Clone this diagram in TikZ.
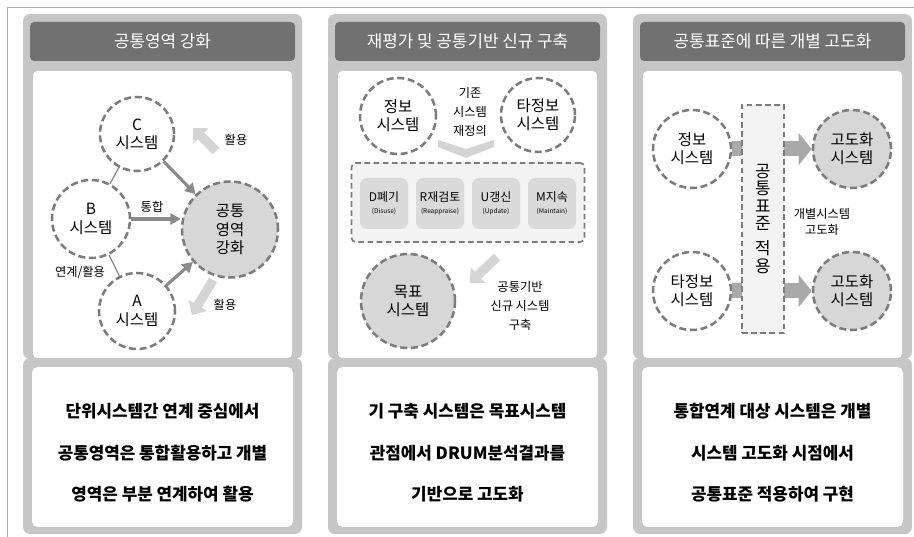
\documentclass[tikz,border=0pt]{standalone}
\usepackage{fontspec}
\setmainfont{Noto Sans CJK KR}
\usepackage{xcolor}
\usepackage{tikz}
\usetikzlibrary{arrows.meta, positioning, calc}

\definecolor{framegray}{HTML}{ABABAB}
\definecolor{panelgray}{HTML}{C6C6C6}
\definecolor{headgray}{HTML}{717171}
\definecolor{dashgray}{HTML}{7C7C7C}
\definecolor{coregray}{HTML}{D7D7D7}
\definecolor{hintgray}{HTML}{D4D4D4}
\definecolor{linkgray}{HTML}{8A8A8A}
\definecolor{blockgray}{HTML}{A9A9A9}
\definecolor{boxgray}{HTML}{DADADA}
\definecolor{palegray}{HTML}{F3F3F3}

\newcommand{\drumsub}{\fontsize{4.6}{5}\selectfont}

\tikzset{
  sysnode/.style={
    circle, draw=dashgray, line width=1.8pt, dash pattern=on 5pt off 2.6pt,
    fill=white, minimum size=1.9cm, inner sep=0pt, align=center,
    font=\fontsize{11}{13}\selectfont
  },
  corenode/.style={
    sysnode, fill=coregray, minimum size=2.4cm
  },
  headtitle/.style={
    text=white, font=\fontsize{12}{14}\selectfont
  },
  summarytext/.style={
    align=center, font=\bfseries\fontsize{12}{29.5}\selectfont
  },
  sidelabel/.style={
    align=center, font=\fontsize{8.7}{13.5}\selectfont
  },
  linkline/.style={
    draw=linkgray, line width=0.9pt
  },
  linkarrow/.style={
    -{Triangle[length=2.6mm, width=2.8mm]}, line width=2.2pt, draw=linkgray
  },
  hintarrow/.style={
    -{Triangle[length=2.8mm, width=5.2mm]}, line width=2.3mm, draw=hintgray
  },
  blockarrow/.style={
    -{Triangle[length=3.3mm, width=8mm]}, line width=3.75mm, draw=blockgray
  },
  drumframe/.style={
    draw=dashgray, line width=1.2pt, dash pattern=on 4pt off 2.5pt,
    fill=palegray, rounded corners=3pt
  },
  drumbox/.style={
    fill=boxgray, rounded corners=5pt, minimum width=1.2cm,
    minimum height=1.275cm, inner sep=1pt, align=center,
    font=\fontsize{8.5}{8.5}\selectfont
  },
  stdbar/.style={
    draw=dashgray, line width=1.2pt, dash pattern=on 4pt off 2.5pt,
    fill=palegray, minimum width=1.05cm, minimum height=5.7cm,
    align=center, font=\fontsize{12}{12.45}\selectfont
  },
}

\begin{document}
\begin{tikzpicture}
  \useasboundingbox (0,0) rectangle (22.85,13.425);

  % outer frame
  \draw[framegray, line width=0.6pt] (0.175,0) -- (0.175,13.25) -- (22.85,13.25);

  % ---- PANEL BACKGROUNDS ----
  \fill[panelgray, rounded corners=5pt] (0.575,4.45) rectangle (7.55,13.075);
  \fill[panelgray, rounded corners=5pt] (8.2,4.45) rectangle (15.175,13.075);
  \fill[panelgray, rounded corners=5pt] (15.825,4.45) rectangle (22.8,13.075);

  \fill[headgray, rounded corners=3pt] (0.75,11.9) rectangle (7.375,12.875);
  \fill[headgray, rounded corners=3pt] (8.375,11.9) rectangle (15.0,12.875);
  \fill[headgray, rounded corners=3pt] (16.0,11.9) rectangle (22.625,12.875);

  \fill[white, rounded corners=3pt] (0.825,4.475) rectangle (7.3,11.65);
  \fill[white, rounded corners=3pt] (8.45,4.475) rectangle (14.925,11.65);
  \fill[white, rounded corners=3pt] (16.075,4.475) rectangle (22.55,11.65);

  \fill[panelgray, rounded corners=5pt] (0.575,0.075) rectangle (7.55,4.475);
  \fill[panelgray, rounded corners=5pt] (8.2,0.075) rectangle (15.175,4.475);
  \fill[panelgray, rounded corners=5pt] (15.825,0.075) rectangle (22.8,4.475);

  \fill[white, rounded corners=4pt] (0.8,0.25) rectangle (7.325,4.25);
  \fill[white, rounded corners=4pt] (8.425,0.25) rectangle (14.95,4.25);
  \fill[white, rounded corners=4pt] (16.05,0.25) rectangle (22.575,4.25);

  % Panel titles
  \node[headtitle] (head1) at (4.0625,12.3875) {공통영역 강화};
  \node[headtitle] (head2) at (11.6875,12.3875) {재평가 및 공통기반 신규 구축};
  \node[headtitle] (head3) at (19.3125,12.3875) {공통표준에 따른 개별 고도화};

  % ---- PANEL 1: common area ----
  \node[sysnode, minimum size=1.85cm] (csys) at (3.425,10.075) {C\\시스템};
  \node[sysnode, minimum size=1.95cm] (bsys) at (2.275,7.95) {B\\시스템};
  \node[sysnode, minimum size=1.9cm] (asys) at (3.425,5.65) {A\\시스템};
  \node[corenode] (core) at (5.75,7.6875) {공통\\영역\\강화};

  \draw[linkline] (csys) -- (bsys);
  \draw[linkline] (bsys) -- (asys);
  \draw[linkarrow] (csys) -- (core);
  \draw[linkarrow] (bsys.east) -- (bsys.east -| core.west);
  \draw[linkarrow] (asys) -- (core);

  \node[sidelabel] (tonghap) at (3.8,8.25) {통합};
  \node[sidelabel] (linkuse) at (2.0,6.625) {연계/활용};
  \node[sidelabel] (useup) at (5.9,9.925) {활용};
  \node[sidelabel] (usedown) at (5.625,5.8) {활용};

  % light hint arrows
  \coordinate (hintupfrom) at (5.4,9.65);
  \coordinate (hintupto) at (4.825,10.225);
  \draw[hintarrow] (hintupfrom) -- (hintupto);
  \coordinate (hintdnfrom) at (5.325,6.425);
  \coordinate (hintdnto) at (4.8,5.55);
  \draw[hintarrow] (hintdnfrom) -- (hintdnto);

  % ---- PANEL 2: re-evaluation ----
  \node[sysnode] (info2) at (9.95,10.525) {정보\\시스템};
  \node[sysnode, minimum size=1.85cm] (other2) at (13.45,10.55) {타정보\\시스템};
  \node[sidelabel] (redef) at (11.75,10.625) {기존\\시스템\\재정의};

  % chevron
  \fill[hintgray] (10.95,9.925) -- (11.65,9.7) -- (12.35,9.925) -- (12.35,9.75)
    -- (11.65,9.475) -- (10.95,9.75) -- cycle;

  \node[drumframe, minimum width=5.825cm, minimum height=1.975cm]
    (drum) at (11.7,8.3625) {};
  \node[drumbox] (dbox) at (9.6,8.3375) {D폐기\\{\drumsub (Disuse)}};
  \node[drumbox] (rbox) at (11.0,8.3375) {R재검토\\{\drumsub (Reappraise)}};
  \node[drumbox] (ubox) at (12.4,8.3375) {U갱신\\{\drumsub (Update)}};
  \node[drumbox] (mbox) at (13.8,8.3375) {M지속\\{\drumsub (Maintain)}};

  \coordinate (hintnewfrom) at (12.425,7.0);
  \coordinate (hintnewto) at (11.75,6.35);
  \draw[hintarrow] (hintnewfrom) -- (hintnewto);

  \node[corenode, minimum size=2.35cm] (target) at (10.2,5.9) {목표\\시스템};
  \node[sidelabel] (newbuild) at (13.0,5.775) {공통기반\\신규 시스템\\구축};

  % ---- PANEL 3: standard upgrade ----
  \node[sysnode, minimum size=1.95cm] (info3) at (17.3,9.7) {정보\\시스템};
  \node[sysnode, minimum size=1.95cm] (other3) at (17.3,6.15) {타정보\\시스템};
  \node[corenode, minimum size=1.95cm] (upper3) at (21.3,9.7) {고도화\\시스템};
  \node[corenode, minimum size=1.95cm] (lower3) at (21.3,6.15) {고도화\\시스템};

  \draw[blockarrow] (info3) -- (upper3);
  \draw[blockarrow] (other3) -- (lower3);

  \node[stdbar] (stdcol) at (19.075,7.95) {공\\통\\표\\준\\[5.3pt]적\\용};
  \node[sidelabel, font=\fontsize{8.7}{11.5}\selectfont]
    (indiv) at (20.55,7.875) {개별시스템\\고도화};

  % ---- SUMMARY TEXTS ----
  \node[summarytext] (sum1) at (4.0625,2.1)
    {단위시스템간 연계 중심에서\\공통영역은 통합활용하고 개별\\영역은 부분 연계하여 활용};
  \node[summarytext] (sum2) at (11.6875,2.1)
    {기 구축 시스템은 목표시스템\\관점에서 DRUM분석결과를\\기반으로 고도화};
  \node[summarytext] (sum3) at (19.3125,2.1)
    {통합연계 대상 시스템은 개별\\시스템 고도화 시점에서\\공통표준 적용하여 구현};
\end{tikzpicture}
\end{document}
